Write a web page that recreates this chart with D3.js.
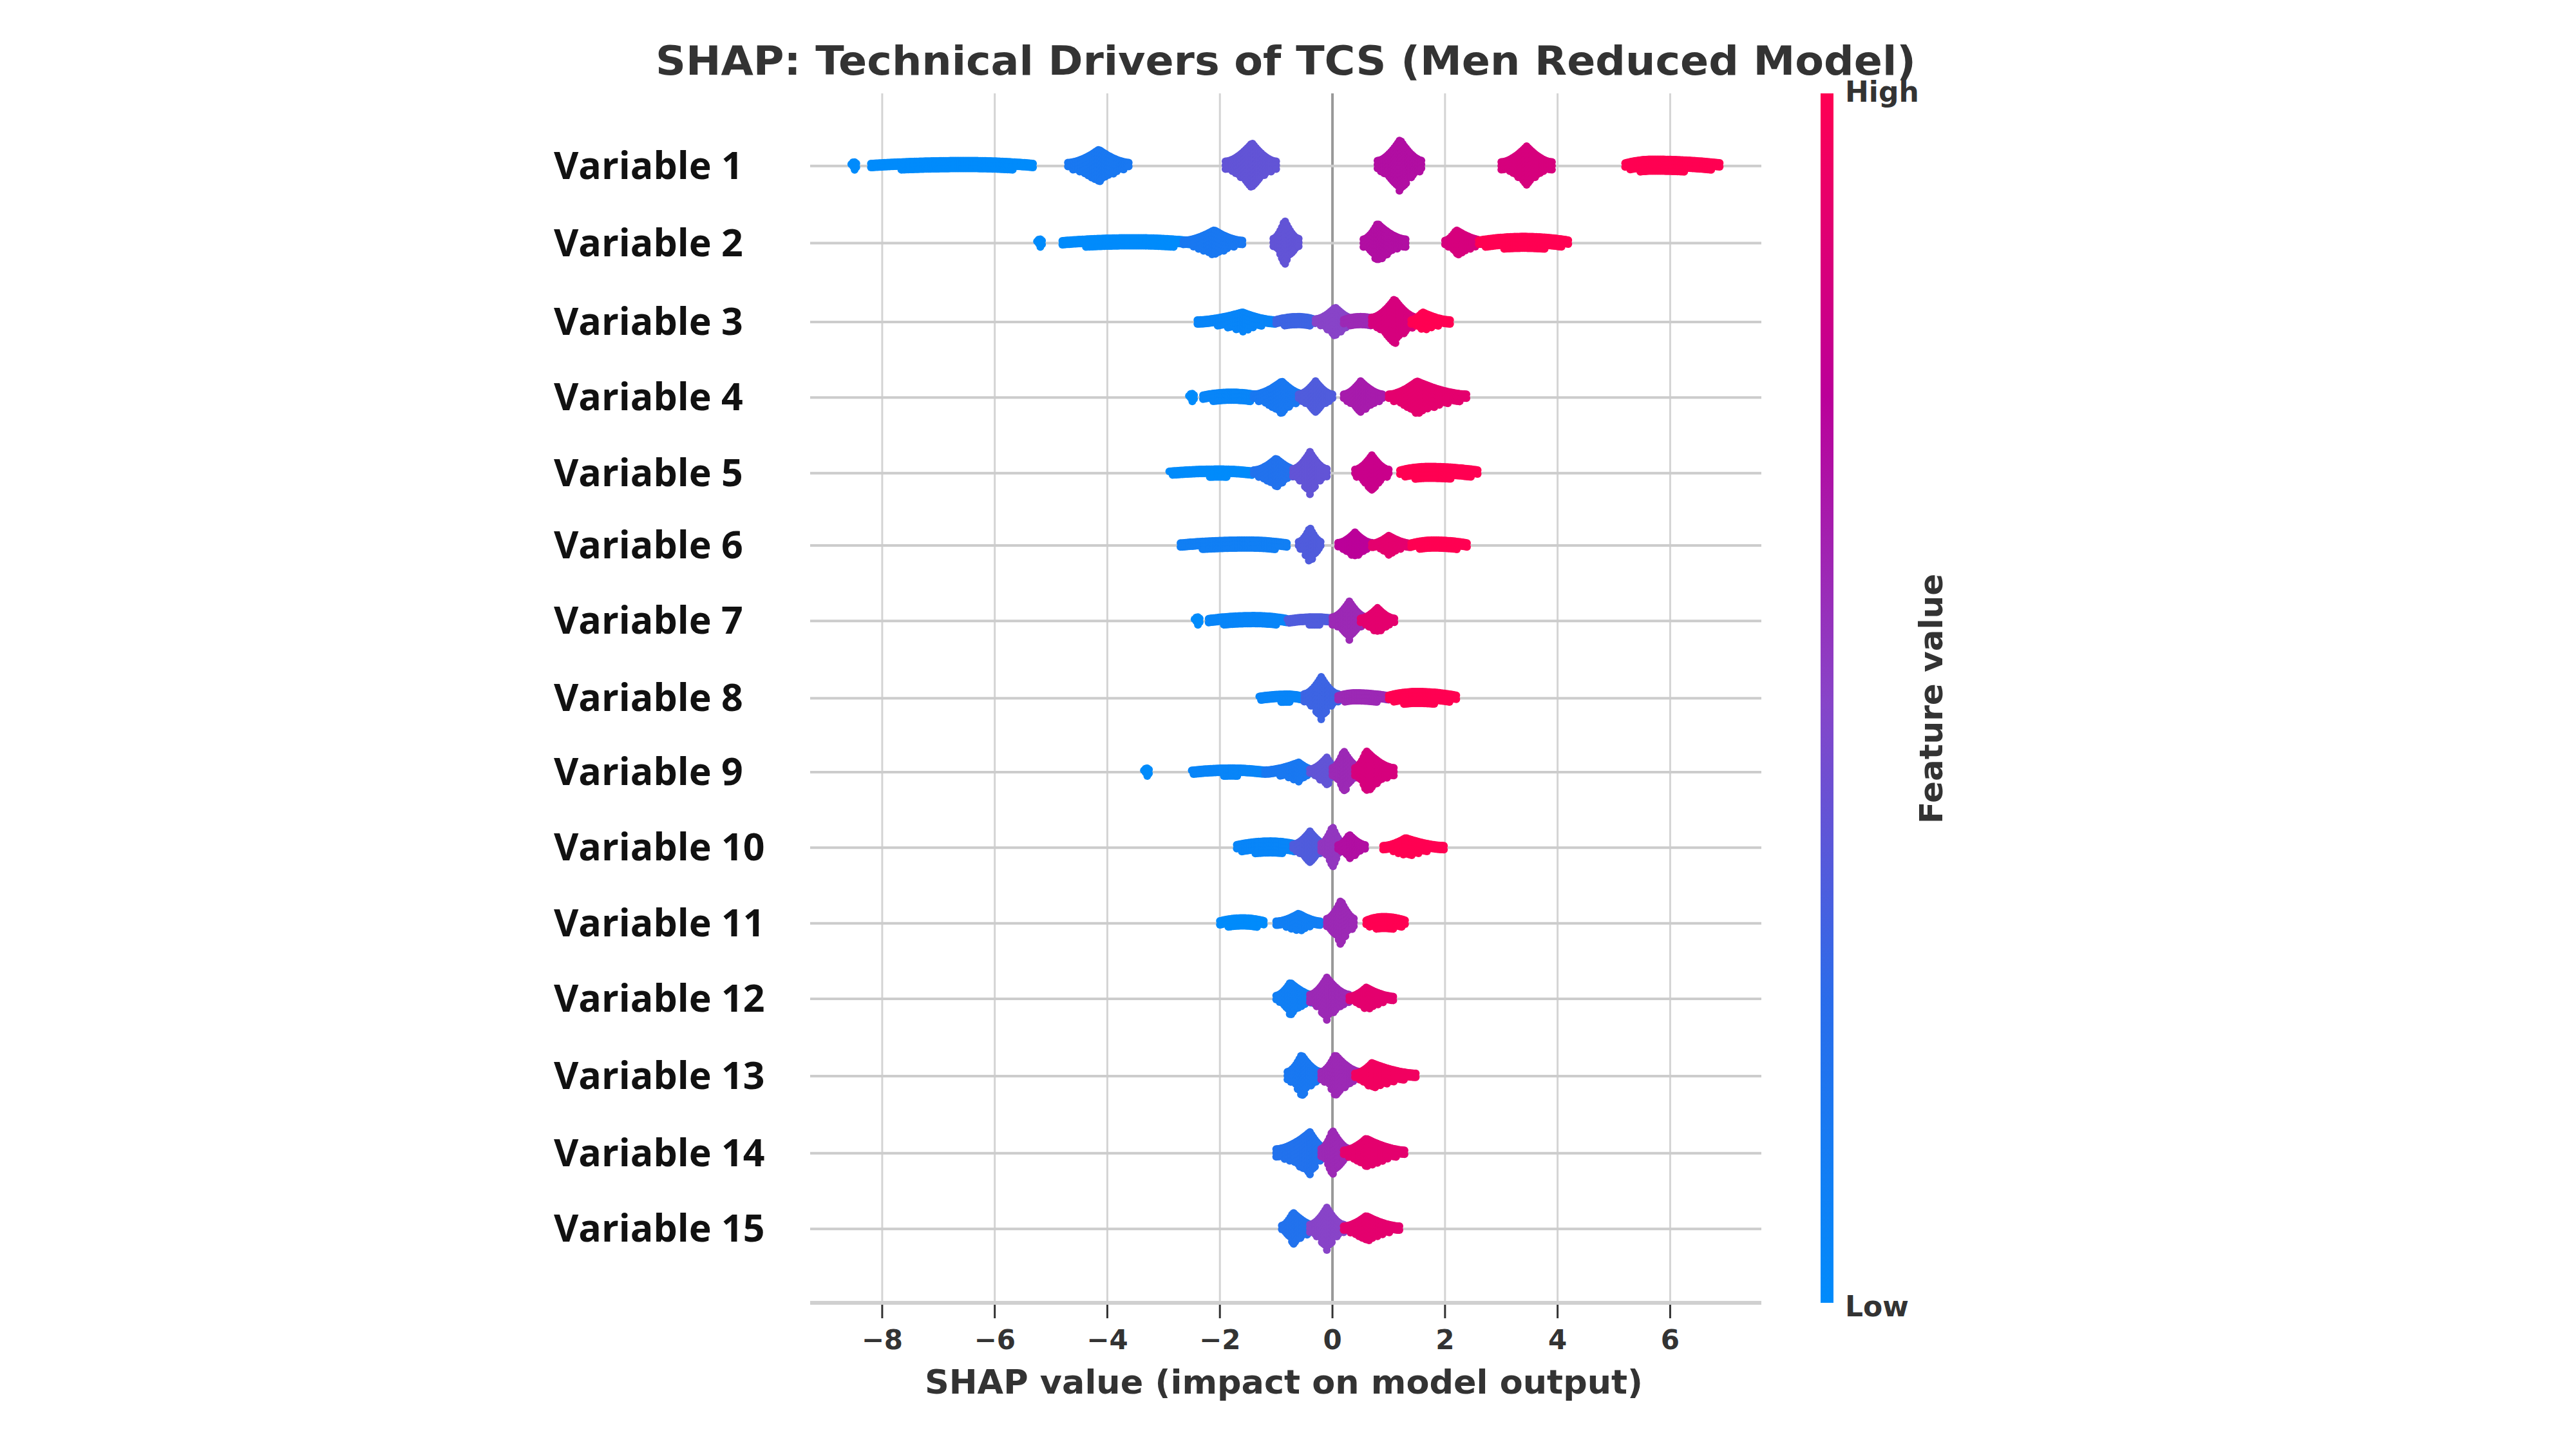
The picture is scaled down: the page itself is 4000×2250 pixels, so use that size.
<!DOCTYPE html>
<html><head><meta charset="utf-8">
<script src="https://cdn.jsdelivr.net/npm/d3@7"></script>
<style>body{margin:0;background:#fff}</style>
</head><body>
<svg id="c" width="4000" height="2250"></svg>
<script>
// feature names, top to bottom
const features = d3.range(1, 16).map(i => `Variable ${i}`);
const xTicks = [-8, -6, -4, -2, 0, 2, 4, 6];
// clusters per feature: [x0, x1, peak, halfHeight(px, 1568 scale), featureValue 0..1]
const clusters = [
  [[-8.55,-8.45,-8.5,3,0],[-8.2,-5.3,-6.5,4,0],[-4.7,-3.6,-4.15,10,0.15],[-1.9,-1.0,-1.43,14,0.4],[0.8,1.6,1.2,16,0.7],[3.0,3.9,3.45,12,0.85],[5.2,6.9,5.7,5,1]],
  [[-5.25,-5.15,-5.2,3,0],[-4.8,-2.5,-3.5,4,0],[-2.65,-1.6,-2.1,8,0.15],[-1.05,-0.6,-0.85,14,0.4],[0.55,1.3,0.8,12,0.7],[2.0,2.7,2.2,8,0.85],[2.6,4.2,3.4,5,1]],
  [[-2.4,-1.0,-1.6,6,0.05],[-1.0,-0.3,-0.6,4,0.3],[-0.3,0.4,0.05,9,0.5],[0.2,0.8,0.5,4,0.6],[0.7,1.5,1.1,14,0.85],[1.4,2.1,1.6,6,1]],
  [[-2.55,-2.45,-2.5,3,0],[-2.3,-1.3,-1.8,4,0.05],[-1.4,-0.5,-0.9,10,0.15],[-0.6,0.0,-0.3,10,0.35],[0.2,0.9,0.5,10,0.65],[1.0,2.4,1.5,10,0.9]],
  [[-2.9,-1.4,-2.0,3,0],[-1.4,-0.6,-1.0,9,0.2],[-0.7,-0.1,-0.4,13,0.4],[0.4,1.0,0.7,11,0.8],[1.2,2.6,1.7,5,1]],
  [[-2.7,-0.8,-1.5,4,0.1],[-0.6,-0.2,-0.4,11,0.35],[0.1,0.7,0.4,8,0.75],[0.7,1.4,1.0,6,0.9],[1.4,2.4,1.8,4,1]],
  [[-2.45,-2.35,-2.4,3,0],[-2.2,-0.8,-1.4,4,0.05],[-0.8,0.1,-0.3,3,0.35],[0.0,0.6,0.3,12,0.6],[0.5,1.1,0.8,8,0.9]],
  [[-1.3,-0.5,-0.8,3,0.05],[-0.5,0.1,-0.2,13,0.3],[0.1,1.0,0.4,4,0.6],[1.0,2.2,1.5,5,1]],
  [[-3.35,-3.25,-3.3,3,0],[-2.5,-1.2,-1.8,3,0.05],[-1.2,-0.3,-0.6,6,0.15],[-0.4,0.1,-0.1,9,0.4],[0.0,0.5,0.2,13,0.6],[0.4,1.1,0.6,13,0.85]],
  [[-1.7,-0.6,-1.1,5,0.05],[-0.7,-0.1,-0.4,10,0.35],[-0.2,0.2,0.0,13,0.55],[0.1,0.6,0.3,8,0.7],[0.9,2.0,1.3,6,1]],
  [[-2.0,-1.2,-1.6,4,0],[-1.0,-0.2,-0.6,6,0.1],[-0.1,0.4,0.15,14,0.6],[0.6,1.3,0.9,5,1]],
  [[-1.0,-0.3,-0.75,10,0.1],[-0.4,0.3,-0.1,13,0.6],[0.3,1.1,0.6,7,0.9]],
  [[-0.8,-0.2,-0.55,13,0.15],[-0.2,0.5,0.05,13,0.6],[0.4,1.5,0.7,8,0.95]],
  [[-1.0,-0.1,-0.4,13,0.2],[-0.2,0.3,0.0,14,0.6],[0.2,1.3,0.6,9,0.9]],
  [[-0.9,-0.3,-0.7,10,0.2],[-0.4,0.2,-0.1,13,0.5],[0.2,1.2,0.6,8,0.9]]
];
// row centres (1568-wide scale)
const rowY = [101, 148, 196, 242, 288, 332, 378, 425, 470, 516, 562, 608, 655, 702, 748];

const S = 2.551; // reference display scale -> output px
const svg = d3.select("#c");
const font = "'DejaVu Sans', sans-serif";

const x = d3.scaleLinear().domain([-9.28, 7.62]).range([1258, 2735]);
const y = d3.scaleOrdinal().domain(features).range(rowY.map(v => v * S));
const color = d3.scaleLinear().domain([0, 0.25, 0.5, 0.75, 1])
  .range(["#008bfb", "#2a6cea", "#8844c8", "#bb0099", "#ff0052"]);

const plotTop = 145, plotBottom = 2023;

// vertical grid lines
svg.append("g").selectAll("line").data(xTicks).join("line")
  .attr("x1", d => x(d)).attr("x2", d => x(d))
  .attr("y1", plotTop).attr("y2", plotBottom)
  .attr("stroke", d => d === 0 ? "#999" : "#d4d4d4")
  .attr("stroke-width", d => d === 0 ? 4 : 3);

// row lines
svg.append("g").selectAll("line").data(features).join("line")
  .attr("x1", 1258).attr("x2", 2735)
  .attr("y1", d => y(d)).attr("y2", d => y(d))
  .attr("stroke", "#cccccc").attr("stroke-width", 4);

// dots
const dots = [];
features.forEach((f, i) => {
  clusters[i].forEach(([x0, x1, pk, h, c]) => {
    const step = 0.03;
    for (let v = x0; v <= x1 + 1e-9; v += step) {
      const half = v < pk ? pk - x0 : x1 - pk;
      const t = half > 0 ? Math.min(1, Math.abs(v - pk) / half) : 0;
      const shape = h <= 5 ? 0.35 + 0.45 * (1 - t * t) : 0.2 + 0.8 * Math.pow(1 - t, 1.7);
      const H = h * S * shape;
      for (let o = -H; o <= H + 0.1; o += 6) dots.push({v, o, c, f});
    }
  });
});
svg.append("g").selectAll("circle").data(dots).join("circle")
  .attr("cx", d => x(d.v)).attr("cy", d => y(d.f) + d.o)
  .attr("r", 6).attr("fill", d => color(d.c));

// x axis
const ax = svg.append("g").attr("transform", `translate(0,${plotBottom})`);
ax.append("line").attr("x1", 1258).attr("x2", 2735)
  .attr("stroke", "#d0d0d0").attr("stroke-width", 6);
ax.selectAll("line.t").data(xTicks).join("line").attr("class", "t")
  .attr("x1", d => x(d)).attr("x2", d => x(d)).attr("y1", 3).attr("y2", 24)
  .attr("stroke", "#333").attr("stroke-width", 3);
ax.selectAll("text").data(xTicks).join("text")
  .attr("x", d => x(d)).attr("y", 72).attr("text-anchor", "middle")
  .attr("font-family", font).attr("font-weight", "bold").attr("font-size", 42)
  .attr("fill", "#333")
  .text(d => d < 0 ? "\u2212" + (-d) : d);

// feature labels
svg.append("g").selectAll("text").data(features).join("text")
  .attr("x", 860).attr("y", d => y(d) + 20)
  .attr("font-family", "'Open Sans', sans-serif").attr("font-weight", "bold")
  .attr("font-size", 59).attr("fill", "#111").text(d => d);

// title and axis title (condensed as in reference)
svg.append("text").attr("x", 1018).attr("y", 116)
  .attr("font-family", font).attr("font-weight", "bold").attr("font-size", 62)
  .attr("fill", "#333").attr("textLength", 1957).attr("lengthAdjust", "spacingAndGlyphs")
  .text("SHAP: Technical Drivers of TCS (Men Reduced Model)");
svg.append("text").attr("x", 1436).attr("y", 2164)
  .attr("font-family", font).attr("font-weight", "bold").attr("font-size", 52)
  .attr("fill", "#333").attr("textLength", 1115).attr("lengthAdjust", "spacingAndGlyphs")
  .text("SHAP value (impact on model output)");

// colorbar
const defs = svg.append("defs");
const grad = defs.append("linearGradient").attr("id", "cb")
  .attr("x1", 0).attr("x2", 0).attr("y1", 1).attr("y2", 0);
color.domain().forEach(d => grad.append("stop").attr("offset", d).attr("stop-color", color(d)));
svg.append("rect").attr("x", 2827).attr("y", plotTop).attr("width", 20).attr("height", plotBottom - plotTop)
  .attr("fill", "url(#cb)");
const cbText = (t, yy) => svg.append("text").attr("x", 2865).attr("y", yy)
  .attr("font-family", font).attr("font-weight", "bold").attr("font-size", 44)
  .attr("fill", "#333").text(t);
cbText("High", 158);
cbText("Low", 2044);
svg.append("text").attr("transform", "translate(3016,1085) rotate(-90)")
  .attr("text-anchor", "middle").attr("font-family", font).attr("font-weight", "bold")
  .attr("font-size", 50).attr("fill", "#333").text("Feature value");
</script>
</body></html>
